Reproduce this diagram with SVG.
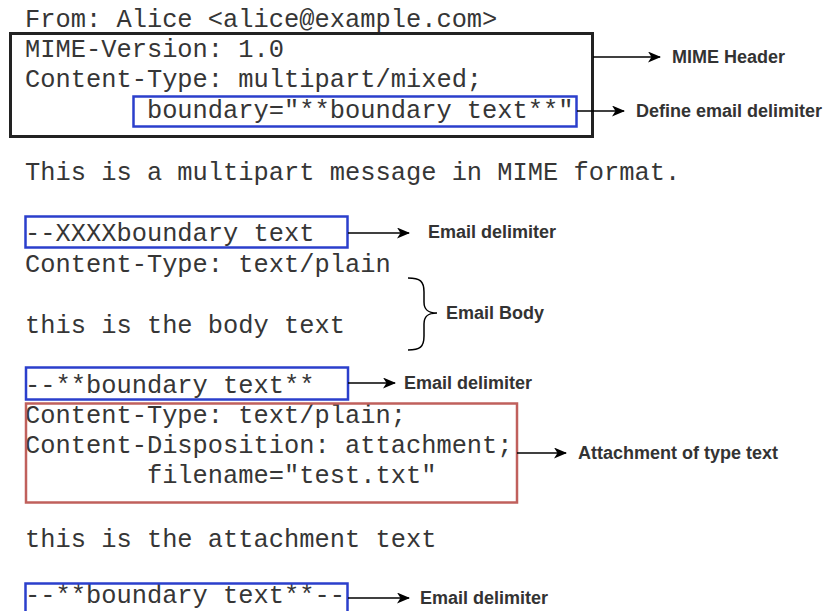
<svg xmlns="http://www.w3.org/2000/svg" width="825" height="611" viewBox="0 0 825 611">
  <style>
    .mono { font-family: "Liberation Mono", "Courier New", monospace; font-size: 25.4px; fill: #363636; white-space: pre; }
    .label { font-family: "Liberation Sans", Arial, Helvetica, sans-serif; font-size: 18px; font-weight: bold; fill: #333333; }
    .hdr { fill: none; stroke: #222222; stroke-width: 3; }
    .delim { fill: none; stroke: #2b3fcc; stroke-width: 2.5; }
    .attach { fill: none; stroke: #c0605c; stroke-width: 2.5; }
    .conn { fill: none; stroke: #000000; stroke-width: 1.5; }
    .brace { fill: none; stroke: #000000; stroke-width: 1.5; }
  </style>
  <defs>
    <marker id="arrow" viewBox="0 0 13 11" refX="12" refY="5.5" markerWidth="13" markerHeight="11" markerUnits="userSpaceOnUse" orient="auto">
      <path d="M0,0 L13,5.5 L0,11 L3.5,5.5 Z" fill="#000000"/>
    </marker>
  </defs>

  <rect width="825" height="611" fill="#ffffff"/>

  <!-- message text -->
  <g id="message-text">
    <text class="mono" x="25" y="27">From: Alice &lt;alice@example.com&gt;</text>
    <text class="mono" x="25" y="57">MIME-Version: 1.0</text>
    <text class="mono" x="25" y="87">Content-Type: multipart/mixed;</text>
    <text class="mono" x="25" y="118">        boundary="**boundary text**"</text>
    <text class="mono" x="25" y="180">This is a multipart message in MIME format.</text>
    <text class="mono" x="25" y="241">--XXXXboundary text</text>
    <text class="mono" x="25" y="272">Content-Type: text/plain</text>
    <text class="mono" x="25" y="333">this is the body text</text>
    <text class="mono" x="25" y="393">--**boundary text**</text>
    <text class="mono" x="25" y="423">Content-Type: text/plain;</text>
    <text class="mono" x="25" y="453">Content-Disposition: attachment;</text>
    <text class="mono" x="25" y="483">        filename="test.txt"</text>
    <text class="mono" x="25" y="547">this is the attachment text</text>
    <text class="mono" x="25" y="603">--**boundary text**--</text>
  </g>

  <!-- highlighted regions -->
  <g id="mime-header-box"><rect class="hdr" x="10.5" y="33.5" width="582" height="103"/></g>
  <g id="boundary-def-box"><rect class="delim" x="133.5" y="96.5" width="443" height="30"/></g>
  <g id="delimiter-1-box"><rect class="delim" x="25.5" y="216.5" width="322" height="31"/></g>
  <g id="delimiter-2-box"><rect class="delim" x="26" y="367.5" width="322" height="32"/></g>
  <g id="attachment-box"><rect class="attach" x="26" y="403.5" width="491" height="99"/></g>
  <g id="delimiter-end-box"><rect class="delim" x="25.5" y="583.5" width="322" height="40"/></g>

  <!-- annotation labels -->
  <g id="label-mime-header"><text class="label" x="672" y="63">MIME Header</text></g>
  <g id="label-define-delimiter"><text class="label" x="636" y="117">Define email delimiter</text></g>
  <g id="label-delimiter-1"><text class="label" x="428" y="238">Email delimiter</text></g>
  <g id="label-body"><text class="label" x="446" y="319">Email Body</text></g>
  <g id="label-delimiter-2"><text class="label" x="404" y="389">Email delimiter</text></g>
  <g id="label-attachment"><text class="label" x="578" y="459">Attachment of type text</text></g>
  <g id="label-delimiter-end"><text class="label" x="420" y="604">Email delimiter</text></g>

  <!-- connectors -->
  <g id="connectors">
    <line class="conn" x1="593" y1="57" x2="660" y2="57" marker-end="url(#arrow)"/>
    <line class="conn" x1="577" y1="111" x2="624" y2="111" marker-end="url(#arrow)"/>
    <line class="conn" x1="348" y1="233" x2="409" y2="233" marker-end="url(#arrow)"/>
    <path class="brace" d="M408,278 C420,278 424,281 424,292 L424,302 C424,310 428,313 437,313 C428,313 424,316 424,324 L424,336 C424,347 420,350 408,350"/>
    <line class="conn" x1="348" y1="383" x2="395" y2="383" marker-end="url(#arrow)"/>
    <line class="conn" x1="517" y1="453" x2="566" y2="453" marker-end="url(#arrow)"/>
    <line class="conn" x1="348" y1="598" x2="409" y2="598" marker-end="url(#arrow)"/>
  </g>
</svg>
